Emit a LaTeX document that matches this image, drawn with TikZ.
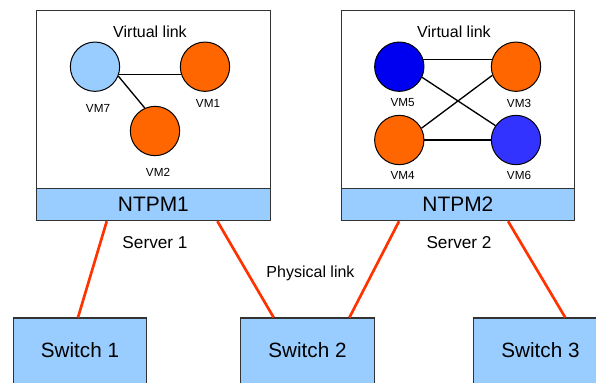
\documentclass[tikz,border=0pt]{standalone}
\usepackage{fontspec}
\setmainfont{Liberation Sans}
\usetikzlibrary{calc}
\definecolor{paleblue}{HTML}{99CCFF}
\definecolor{vmorange}{HTML}{FF6600}
\definecolor{vmblue}{HTML}{0000F0}
\definecolor{vmblueb}{HTML}{3333FF}
\definecolor{linkred}{HTML}{FF3300}
\definecolor{edge}{HTML}{333333}
\tikzset{
  vm/.style={circle, draw=black, line width=0.75pt, minimum size=37pt, inner sep=0pt},
  vmlabel/.style={font=\fontsize{8.8}{10}\selectfont, inner sep=0pt},
  caption/.style={font=\fontsize{12}{14}\selectfont, inner sep=0pt},
  servername/.style={font=\fontsize{12.9}{15}\selectfont, inner sep=0pt},
  serverbox/.style={draw=edge, line width=0.8pt, fill=white, minimum width=175pt, minimum height=133.7pt, inner sep=0pt},
  ntpmbar/.style={draw=edge, line width=0.8pt, fill=paleblue, minimum width=175pt, minimum height=24.3pt, inner sep=0pt, font=\fontsize{15.7}{18}\selectfont},
  switchbox/.style={draw=edge, line width=0.8pt, fill=paleblue, minimum width=100pt, minimum height=49.5pt, inner sep=0pt},
  switchtext/.style={font=\fontsize{15.5}{18}\selectfont, inner sep=0pt},
  vlink/.style={draw=black, line width=1pt},
  plink/.style={draw=linkred, line width=2pt},
}
\begin{document}
\begin{tikzpicture}[x=0.75pt, y=-0.75pt]
\useasboundingbox (0,0) rectangle (596,382);

% switches
\node[switchbox] (sw1) at (80,351) {};
\node[switchbox] (sw2) at (307.5,351) {};
\node[switchbox] (sw3) at (540.5,351) {};
\node[switchtext] (sw1t) at (80,350) {Switch 1};
\node[switchtext] (sw2t) at (307.5,350) {Switch 2};
\node[switchtext] (sw3t) at (540.5,350) {Switch 3};

% server 1
\node[serverbox] (srv1) at (153.4,99.2) {};
\node[ntpmbar] (ntpm1) at (153.4,204.5) {NTPM1};
\node[caption] (vl1) at (150,32) {Virtual link};
\node[vm, fill=paleblue] (vm7) at (95,66.7) {};
\node[vm, fill=vmorange] (vm1) at (205,66.7) {};
\node[vm, fill=vmorange] (vm2) at (155,131) {};
\node[vmlabel] (vm7l) at (98,108) {VM7};
\node[vmlabel] (vm1l) at (208,103) {VM1};
\node[vmlabel] (vm2l) at (158,172) {VM2};
\draw[vlink] (vm7.-18) -- (vm1.-162);
\draw[vlink] (vm7.-22) -- (vm2.114);

% server 2
\node[serverbox] (srv2) at (457.9,99.2) {};
\node[ntpmbar] (ntpm2) at (457.9,204.5) {NTPM2};
\node[caption] (vl2) at (454,32) {Virtual link};
\node[vm, fill=vmblue] (vm5) at (399.3,66.7) {};
\node[vm, fill=vmorange] (vm3) at (516,66.7) {};
\node[vm, fill=vmorange] (vm4) at (399.3,140) {};
\node[vm, fill=vmblueb] (vm6) at (516,140) {};
\node[vmlabel] (vm5l) at (402.7,103) {VM5};
\node[vmlabel] (vm3l) at (519,103) {VM3};
\node[vmlabel] (vm4l) at (402.7,175) {VM4};
\node[vmlabel] (vm6l) at (519,175) {VM6};
\draw[vlink] (vm5.17) -- (vm3.163);
\draw[vlink] (vm5.-25) -- (vm6.145);
\draw[vlink] (vm4.28) -- (vm3.-160);
\draw[vlink] (vm4.east) -- (vm6.west);

% physical links
\draw[plink] ($(ntpm1.south west)!0.301!(ntpm1.south east)$) -- ($(sw1.north west)!0.485!(sw1.north east)$);
\draw[plink] ($(ntpm1.south west)!0.773!(ntpm1.south east)$) -- ($(sw2.north west)!0.248!(sw2.north east)$);
\draw[plink] ($(ntpm2.south west)!0.249!(ntpm2.south east)$) -- ($(sw2.north west)!0.812!(sw2.north east)$);
\draw[plink] ($(ntpm2.south west)!0.714!(ntpm2.south east)$) -- ($(sw3.north west)!0.684!(sw3.north east)$);

% labels
\node[servername] (s1l) at (155,243) {Server 1};
\node[servername] (s2l) at (459,243) {Server 2};
\node[caption] (pl) at (310.5,273) {Physical link};
\end{tikzpicture}
\end{document}
